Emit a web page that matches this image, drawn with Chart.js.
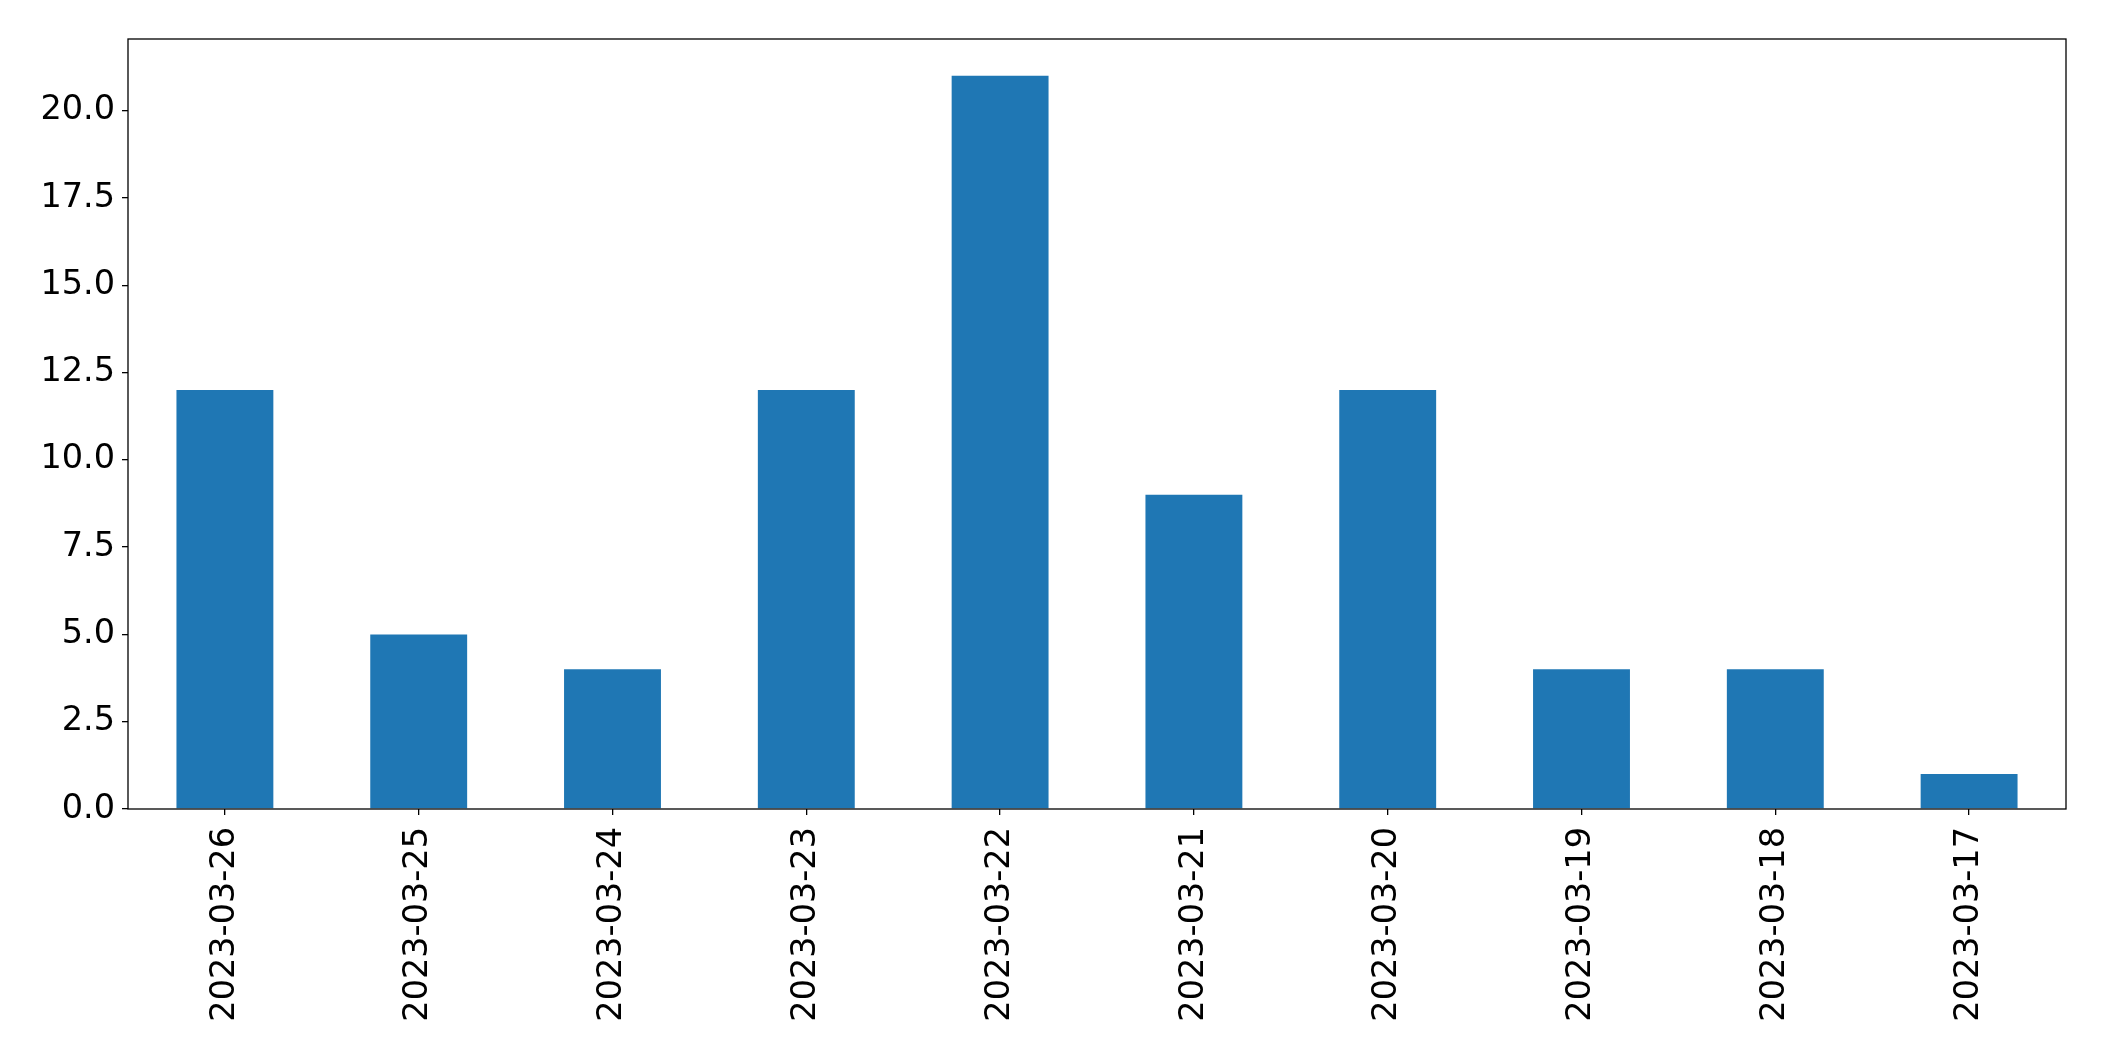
<!DOCTYPE html>
<html>
<head>
<meta charset="utf-8">
<title>Counts per day</title>
<script src="https://cdn.jsdelivr.net/npm/chart.js@4"></script>
<style>
    html, body { margin: 0; padding: 0; background: #fff; }
    #wrap { width: 2104px; height: 1061px; }
</style>
</head>
<body>
<div id="wrap"><canvas id="countChart" width="2104" height="1061"></canvas></div>
<script>
const dates = ["2023-03-26", "2023-03-25", "2023-03-24", "2023-03-23", "2023-03-22",
               "2023-03-21", "2023-03-20", "2023-03-19", "2023-03-18", "2023-03-17"];
const counts = [12, 5, 4, 12, 21, 9, 12, 4, 4, 1];
const yTicks = [0, 2.5, 5, 7.5, 10, 12.5, 15, 17.5, 20];

// frame around the plot area, like the matplotlib axes box
const frame = {
    id: "frame",
    afterDraw(chart) {
        const a = chart.chartArea;
        const ctx = chart.ctx;
        ctx.save();
        ctx.strokeStyle = "#000";
        ctx.lineWidth = 1.3;
        ctx.strokeRect(a.left, a.top, a.right - a.left, a.bottom - a.top);
        ctx.restore();
    }
};

document.addEventListener("DOMContentLoaded", function () {
    const ctx = document.getElementById("countChart").getContext("2d");
    new Chart(ctx, {
        type: "bar",
        data: {
            labels: dates,
            datasets: [{
                data: counts,
                backgroundColor: "#1f77b4",
                borderWidth: 0,
                barPercentage: 0.5,
                categoryPercentage: 1.0
            }]
        },
        options: {
            responsive: false,
            animation: false,
            layout: { padding: { top: 39, right: 38, left: 0, bottom: 0 } },
            plugins: {
                legend: { display: false },
                tooltip: { enabled: false }
            },
            scales: {
                x: {
                    offset: true,
                    grid: { display: true, drawOnChartArea: false, offset: false, tickLength: 6, color: "#000", lineWidth: 1.3 },
                    border: { display: false },
                    ticks: {
                        color: "#000",
                        font: { family: "DejaVu Sans", size: 33.5 },
                        minRotation: 90,
                        maxRotation: 90,
                        padding: 12,
                        autoSkip: false
                    },
                    afterFit: function (scale) { scale.height = 252; }
                },
                y: {
                    min: 0,
                    max: 22.05,
                    grid: { display: true, drawOnChartArea: false, tickLength: 6, color: "#000", lineWidth: 1.3 },
                    border: { display: false },
                    afterBuildTicks: function (scale) {
                        scale.ticks = yTicks.map(v => ({ value: v }));
                    },
                    ticks: {
                        color: "#000",
                        font: { family: "DejaVu Sans", size: 33.5 },
                        padding: 7,
                        callback: v => v.toFixed(1)
                    },
                    afterFit: function (scale) { scale.width = 128; }
                }
            }
        },
        plugins: [frame]
    });
});
</script>
</body>
</html>
